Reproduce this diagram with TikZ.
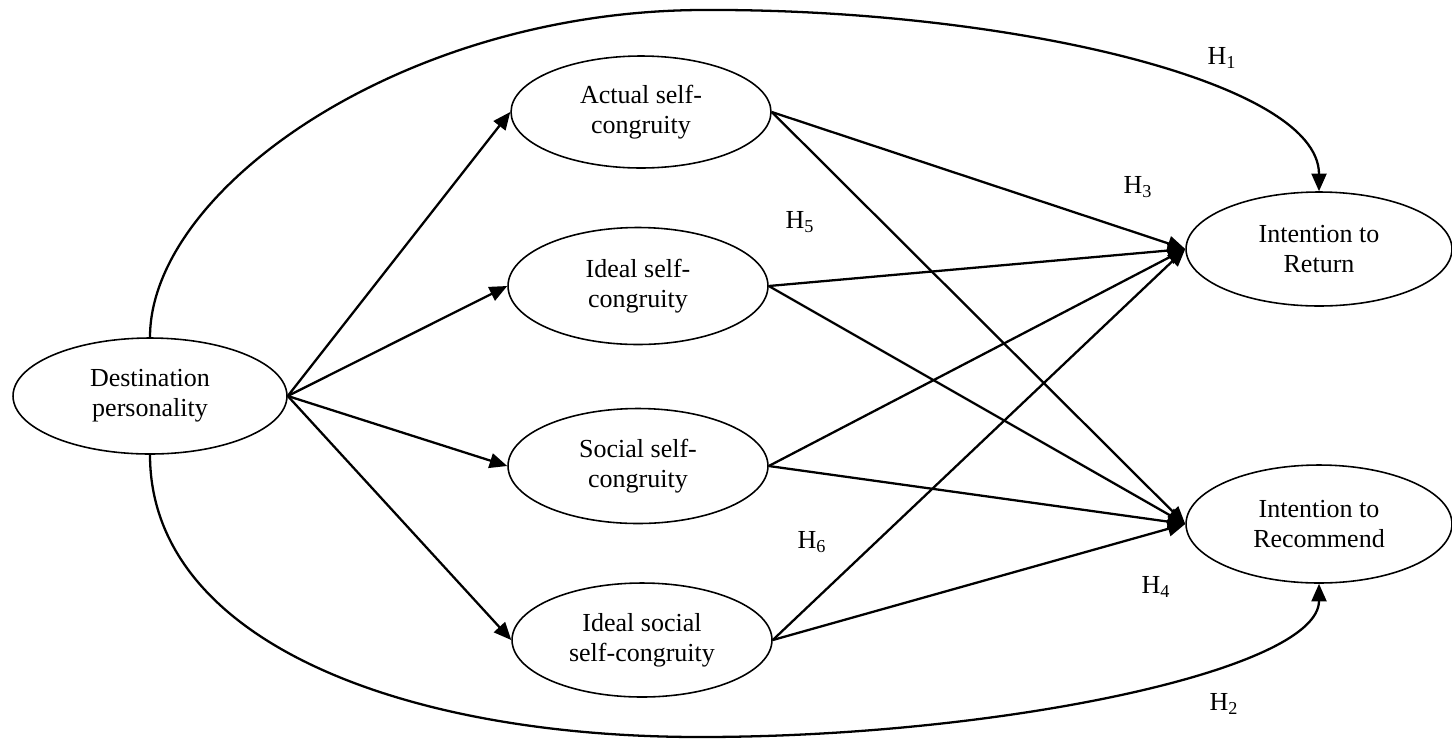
\documentclass[tikz,border=0pt]{standalone}
\usepackage{fontspec}
\setmainfont{Liberation Serif}
\usetikzlibrary{shapes.geometric,arrows.meta}

\begin{document}
\begin{tikzpicture}[x=0.02cm, y=-0.02cm,
    construct/.style={draw, ellipse, line width=0.9pt, inner sep=0pt, align=center,
        minimum width=5.2cm, minimum height=2.3cm, font=\fontsize{14.8}{17}\selectfont},
    link/.style={line width=1.3pt, -{Triangle[length=10pt,width=8.5pt]}},
    hyp/.style={inner sep=0pt, font=\fontsize{14.8}{17}\selectfont}]
    \useasboundingbox (0,0) rectangle (1452,738);
    % constructs
    \node[construct, minimum width=5.48cm, minimum height=2.32cm] (dest) at (150,396) {Destination\\personality};
    \node[construct, minimum height=2.24cm] (actual) at (641,112) {Actual self-\\congruity};
    \node[construct, minimum height=2.34cm] (ideal) at (638,286) {Ideal self-\\congruity};
    \node[construct] (social) at (638,466) {Social self-\\congruity};
    \node[construct, minimum height=2.28cm] (idsoc) at (642,640) {Ideal social\\self-congruity};
    \node[construct, minimum width=5.32cm, minimum height=2.28cm] (return) at (1319,249) {Intention to\\Return};
    \node[construct, minimum width=5.32cm, minimum height=2.36cm] (recomm) at (1319,524) {Intention to\\Recommend};
    % hypothesis labels
    \node[hyp] (h1) at (1222,58) {H\textsubscript{1}};
    \node[hyp] (h2) at (1224,704) {H\textsubscript{2}};
    \node[hyp] (h3) at (1138,187) {H\textsubscript{3}};
    \node[hyp] (h4) at (1156,587) {H\textsubscript{4}};
    \node[hyp] (h5) at (800,222) {H\textsubscript{5}};
    \node[hyp] (h6) at (812,542) {H\textsubscript{6}};
    \coordinate (topmid) at (700,10);
    \coordinate (botmid) at (700,737);
    % paths
    \foreach \n in {actual,ideal,social,idsoc}
        \draw[link] (dest.east) -- (\n.west);
    \foreach \n in {actual,ideal,social,idsoc} {
        \draw[link] (\n.east) -- (return.west);
        \draw[link] (\n.east) -- (recomm.west);
    }
    \draw[link] (dest.north) .. controls (150,190) and (400,12) .. (topmid)
        .. controls (1000,8) and (return.north |- 0,80) .. (return.north);
    \draw[link] (dest.south) .. controls (150,640) and (400,737) .. (botmid)
        .. controls (1000,737) and (recomm.south |- 0,670) .. (recomm.south);
\end{tikzpicture}
\end{document}
